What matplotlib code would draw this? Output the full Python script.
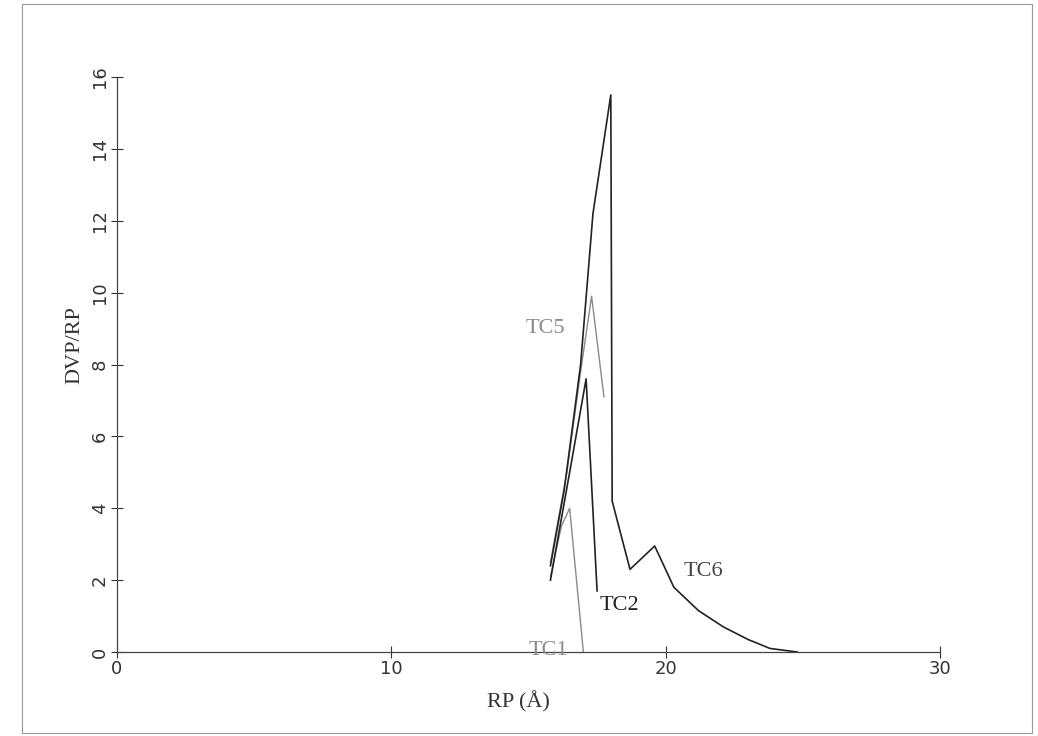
import matplotlib
matplotlib.use("Agg")
import matplotlib.pyplot as plt
from matplotlib.patches import Rectangle

# Data (RP in Angstrom, DVP/RP)
tc1_x = [15.8, 16.2, 16.5, 17.0]
tc1_y = [2.1, 3.5, 4.0, 0.0]

tc2_x = [15.8, 16.5, 17.1, 17.5]
tc2_y = [2.0, 5.0, 7.6, 1.7]

tc5_x = [15.8, 16.4, 16.9, 17.3, 17.75]
tc5_y = [2.5, 5.0, 7.8, 9.9, 7.1]

tc6_x = [15.8, 16.3, 16.9, 17.35, 18.0, 18.05, 18.7, 19.6, 20.3, 21.2, 22.1, 23.0, 23.8, 24.8]
tc6_y = [2.4, 4.5, 8.0, 12.2, 15.5, 4.2, 2.3, 2.95, 1.8, 1.15, 0.7, 0.35, 0.1, 0.0]

x_ticks = [0, 10, 20, 30]
y_ticks = [0, 2, 4, 6, 8, 10, 12, 14, 16]

labels = [("TC1", 15.0, 0.05, "#8a8a8a"), ("TC2", 17.6, 1.3, "#222222"),
          ("TC5", 14.9, 9.0, "#8a8a8a"), ("TC6", 20.65, 2.25, "#444444")]

fig = plt.figure(figsize=(10.38, 7.36), dpi=100)
ax = fig.add_axes([0.1127, 0.1141, 0.7929, 0.7813])

ax.plot(tc1_x, tc1_y, color="#8a8a8a", lw=1.0)
ax.plot(tc2_x, tc2_y, color="#222222", lw=1.2)
ax.plot(tc5_x, tc5_y, color="#8a8a8a", lw=1.0)
ax.plot(tc6_x, tc6_y, color="#222222", lw=1.2)

for txt, x, y, c in labels:
    ax.text(x, y, txt, color=c, fontsize=16, family="Liberation Serif",
            ha="left", va="center")

ax.set_xlim(0, 30)
ax.set_ylim(0, 16)
ax.set_xticks(x_ticks)
ax.set_yticks(y_ticks)
ax.set_xticklabels([str(v) for v in x_ticks], fontsize=13, color="#333333")
ax.set_yticklabels([str(v) for v in y_ticks], fontsize=13, color="#333333",
                   rotation=90, va="center")
ax.tick_params(direction="inout", length=8, width=0.8, colors="#333333", pad=2)
for s in ["top", "right"]:
    ax.spines[s].set_visible(False)
for s in ["left", "bottom"]:
    ax.spines[s].set_color("#444444")
    ax.spines[s].set_linewidth(0.9)

ax.set_xlabel("RP (Å)", fontsize=16, family="Liberation Serif", color="#333333")
ax.set_ylabel("DVP/RP", fontsize=16, family="Liberation Serif", color="#333333")
ax.xaxis.set_label_coords(0.488, -0.068)
ax.yaxis.set_label_coords(-0.040, 0.534)

# page border
fig.add_artist(Rectangle((0.021, 0.004), 0.973, 0.99, transform=fig.transFigure,
                         fill=False, edgecolor="#999999", lw=0.8))

fig.savefig("out.png", dpi=100)
